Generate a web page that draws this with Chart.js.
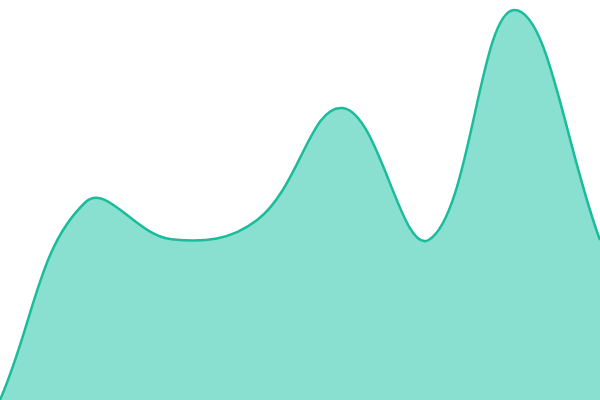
<!DOCTYPE html>
<html>
<head>
<meta charset="utf-8">
<script src="https://cdn.jsdelivr.net/npm/chart.js@4"></script>
<style>
    html, body { margin: 0; padding: 0; background: #fff; }
    #wrap { width: 600px; height: 400px; }
</style>
</head>
<body>
<div id="wrap"><canvas id="areaChart"></canvas></div>
<script>
const labels = ['1', '2', '3', '4', '5', '6', '7', '8'];
const values = [0, 49.5, 40.2, 45, 73, 40, 97.5, 40];

const chartConfig = (data, label) => ({
    type: 'line',
    data: {
        labels: label,
        datasets: [
            {
                data: data,
                fill: true,
                backgroundColor: '#89e0d0',
                borderColor: '#1abc9c',
                borderWidth: 2.5,
                tension: 0.4,
                pointRadius: 0,
            },
        ],
    },
    options: {
        responsive: true,
        maintainAspectRatio: false,
        animation: false,
        layout: { padding: 0 },
        plugins: { legend: { display: false }, tooltip: { enabled: false } },
        scales: {
            x: { display: false },
            y: { display: false, min: 0, max: 100 },
        },
    },
});

new Chart(document.getElementById('areaChart').getContext('2d'), chartConfig(values, labels));
</script>
</body>
</html>
